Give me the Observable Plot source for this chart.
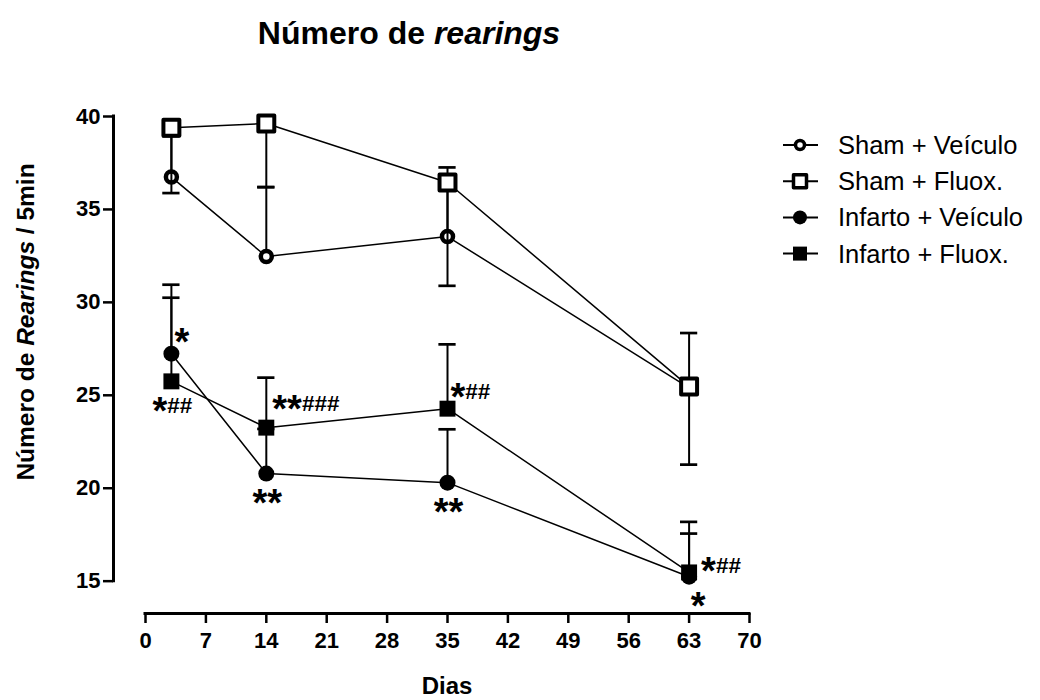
<!DOCTYPE html>
<html>
<head>
<meta charset="utf-8">
<script src="https://cdn.jsdelivr.net/npm/d3@7"></script>
<script src="https://cdn.jsdelivr.net/npm/@observablehq/plot@0.6"></script>
<style>
  body { margin: 0; background: #fff; font-family: "Liberation Sans", Arial, sans-serif; }
  #wrap { position: relative; width: 1040px; height: 700px; overflow: hidden; }
  #title { position: absolute; left: 0; top: 15px; width: 818px; text-align: center;
           font-size: 32px; line-height: 36px; font-weight: bold; color: #000; z-index: 2; }
  #legend { position: absolute; left: 780px; top: 125px; z-index: 2; }
  #chart { position: absolute; left: 0; top: 0; }
  #chart svg g[aria-label$="tick label"] text { font-weight: bold; }
</style>
</head>
<body>
<div id="wrap">
  <div id="title">Número de <i>rearings</i></div>
  <div id="legend"></div>
  <div id="chart"></div>
</div>
<script>
// ---------- data ----------
const series = ["Sham + Veículo", "Sham + Fluox.", "Infarto + Veículo", "Infarto + Fluox."];
const days = [3, 14, 35, 63];

const shamVeiculo     = [36.74, 32.47, 33.54, 25.40];
const shamVeiculoSem  = [2.20, 3.73, 3.72, 2.95];
const shamFluox       = [39.40, 39.62, 36.45, 25.47];
const shamFluoxSem    = [3.52, 3.42, 5.56, 4.20];
const infartoVeiculo    = [27.24, 20.79, 20.30, 15.24];
const infartoVeiculoSem = [3.71, 2.40, 2.87, 2.32];
const infartoFluox    = [25.75, 23.26, 24.28, 15.47];
const infartoFluoxSem = [4.50, 2.69, 3.46, 2.72];
// which side the error bar is drawn on (+1 above, -1 below)
const errorSide = [1, -1, 1, 1];

const xTicks = [0, 7, 14, 21, 28, 35, 42, 49, 56, 63, 70];
const yTicks = [15, 20, 25, 30, 35, 40];

// significance annotations
const annSeries = ["Infarto + Veículo", "Infarto + Fluox.", "Infarto + Fluox.", "Infarto + Veículo",
                   "Infarto + Fluox.", "Infarto + Veículo", "Infarto + Fluox.", "Infarto + Veículo"];
const annDays   = [3, 3, 14, 14, 35, 35, 63, 63];
const annText   = ["*", "*##", "**###", "**", "*##", "**", "*##", "*"];
const annPlace  = ["ne", "s", "ne-high", "s", "ne", "s", "e", "se"];

// ---------- build table ----------
const means = [shamVeiculo, shamFluox, infartoVeiculo, infartoFluox];
const sems  = [shamVeiculoSem, shamFluoxSem, infartoVeiculoSem, infartoFluoxSem];
const rows = [];
series.forEach((s, i) => days.forEach((d, j) => rows.push({
  series: s, day: d, mean: means[i][j], sem: sems[i][j],
  end: means[i][j] + errorSide[i] * sems[i][j]
})));
const valueOf = (s, d) => rows.find(r => r.series === s && r.day === d).mean;
const anns = annText.map((t, k) => ({text: t, day: annDays[k], value: valueOf(annSeries[k], annDays[k]), place: annPlace[k]}));

// ---------- styling (not data) ----------
const markerStyle = [
  {r: 5.5, fill: "white", stroke: "black", strokeWidth: 4.5},
  {symbol: "square", r: 9, fill: "white", stroke: "black", strokeWidth: 4, strokeLinejoin: "round"},
  {r: 8, fill: "black"},
  {symbol: "square", r: 9, fill: "black"}
];
const placeStyle = {
  "ne":      {dx: 3,  dy: -16, textAnchor: "start"},
  "ne-high": {dx: 6,  dy: -23, textAnchor: "start"},
  "e":       {dx: 12, dy: -6,  textAnchor: "start"},
  "s":       {dx: 1,  dy: 25,  textAnchor: "middle"},
  "se":      {dx: 9,  dy: 25,  textAnchor: "middle"}
};
const capHalf = 1.0; // in days

const xMin = -3.71, yMin = 13.26;

const seriesMarks = series.flatMap((s, i) => {
  const data = rows.filter(r => r.series === s);
  return [
    Plot.ruleX(data, {x: "day", y1: "mean", y2: "end", stroke: "black", strokeWidth: 2}),
    Plot.ruleY(data, {y: "end", x1: d => d.day - capHalf, x2: d => d.day + capHalf, stroke: "black", strokeWidth: 2.7}),
    Plot.dot(data, {x: "day", y: "mean", ...markerStyle[i]})
  ];
});

const annMarks = Object.keys(placeStyle).map(p =>
  Plot.text(anns.filter(a => a.place === p), {
    x: "day", y: "value", text: "text", fontSize: 18, fontWeight: "bold",
    fill: "black", ...placeStyle[p]
  })
);

const chart = Plot.plot({
  width: 1040, height: 700,
  marginLeft: 113, marginRight: 291, marginTop: 116, marginBottom: 87,
  x: {domain: [xMin, 70]},
  y: {domain: [yMin, 40]},
  style: {fontFamily: "'Liberation Sans', Arial, sans-serif", background: "white", color: "black", overflow: "visible"},
  marks: [
    Plot.ruleX([xMin], {y1: yTicks[0], y2: yTicks[yTicks.length - 1], stroke: "black", strokeWidth: 3, strokeLinecap: "square"}),
    Plot.ruleY([yMin], {x1: xTicks[0], x2: xTicks[xTicks.length - 1], stroke: "black", strokeWidth: 3, strokeLinecap: "square"}),
    Plot.axisY({ticks: yTicks, tickSize: 10, tickPadding: 3, fontSize: 22, fontWeight: "bold", strokeWidth: 2.5, label: null, tickFormat: d => String(d)}),
    Plot.axisX({ticks: xTicks, tickSize: 10, tickPadding: 9, fontSize: 22, fontWeight: "bold", strokeWidth: 2.5, label: null, tickFormat: d => String(d)}),
    Plot.line(rows, {x: "day", y: "mean", z: "series", stroke: "black", strokeWidth: 1.5}),
    ...seriesMarks,
    ...annMarks
  ]
});
document.getElementById("chart").appendChild(chart);

const svg = d3.select(chart);

// mixed-size annotation glyphs: big asterisks, smaller hashes
svg.selectAll('g[aria-label="text"] text').each(function () {
  const s = this.textContent;
  const stars = (s.match(/^\*+/) || [""])[0];
  const hashes = s.slice(stars.length);
  const el = d3.select(this);
  el.text(null);
  el.append("tspan").attr("font-size", 38).attr("dy", 12).text(stars);
  if (hashes) el.append("tspan").attr("font-size", 22.5).attr("dy", -11).text(hashes);
});

// axis titles
svg.append("text")
  .attr("transform", "translate(34,322) rotate(-90)")
  .attr("text-anchor", "middle")
  .attr("font-size", 24.5).attr("font-weight", "bold").attr("fill", "black")
  .call(t => {
    t.append("tspan").text("Número de ");
    t.append("tspan").attr("font-style", "italic").text("Rearings");
    t.append("tspan").text(" / 5min");
  });
svg.append("text")
  .attr("x", 447).attr("y", 694)
  .attr("text-anchor", "middle")
  .attr("font-size", 24).attr("font-weight", "bold").attr("fill", "black")
  .text("Dias");

// ---------- legend ----------
const leg = d3.select("#legend").append("svg").attr("width", 260).attr("height", 150)
  .style("font-family", "'Liberation Sans', Arial, sans-serif");
const legendShape = [
  {type: d3.symbolCircle, side: 9, fill: "white", sw: 3.5},
  {type: d3.symbolSquare, side: 13, fill: "white", sw: 3.5},
  {type: d3.symbolCircle, side: 14, fill: "black", sw: 0},
  {type: d3.symbolSquare, side: 14, fill: "black", sw: 0}
];
series.forEach((s, i) => {
  const cy = 20 + i * 36.2;
  const g = leg.append("g").attr("transform", `translate(0,${cy})`);
  g.append("line").attr("x1", 3).attr("x2", 38).attr("stroke", "black").attr("stroke-width", 2);
  const sh = legendShape[i];
  const size = sh.type === d3.symbolCircle ? Math.PI * (sh.side / 2) ** 2 : sh.side * sh.side;
  g.append("path").attr("transform", "translate(20,0)")
    .attr("d", d3.symbol(sh.type, size)())
    .attr("fill", sh.fill).attr("stroke", "black").attr("stroke-width", sh.sw)
    .attr("stroke-linejoin", "round");
  g.append("text").attr("x", 58).attr("y", 9).attr("font-size", 25.5).attr("fill", "black").text(s);
});
</script>
</body>
</html>
